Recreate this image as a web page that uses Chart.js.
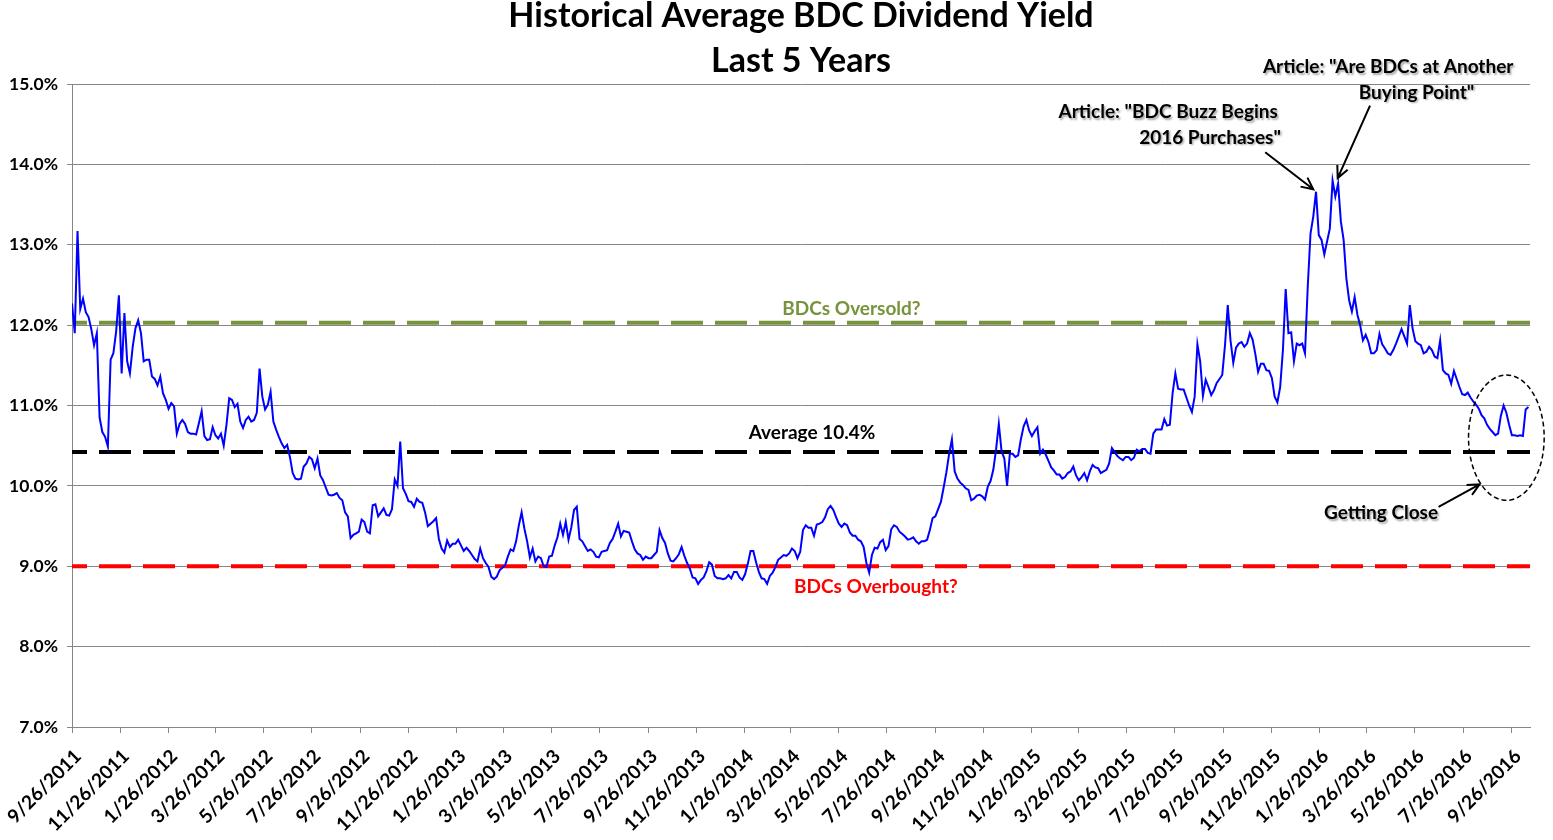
<!DOCTYPE html>
<html>
<head>
<meta charset="utf-8">
<title>Historical Average BDC Dividend Yield</title>
<script src="https://cdn.jsdelivr.net/npm/chart.js@4.4.1/dist/chart.umd.min.js"></script>
<style>
    html, body { margin: 0; padding: 0; background: #fff; }
</style>
</head>
<body>
<canvas id="yieldChart" width="1553" height="840"></canvas>
<script>
// average BDC dividend yield (%), sampled twice a week from 9/26/2011
const startDate = '9/26/2011';
const stepDays = 3.5;
const yields = [
    12.27, 11.90, 13.17, 12.20, 12.33, 12.16, 12.10, 11.95, 11.75, 11.90,
    10.85, 10.67, 10.61, 10.49, 11.57, 11.65, 11.92, 12.37, 11.40, 12.15,
    11.55, 11.40, 11.73, 11.96, 12.06, 11.90, 11.55, 11.57, 11.57, 11.36,
    11.33, 11.25, 11.36, 11.15, 11.07, 10.96, 11.03, 10.99, 10.65, 10.77,
    10.82, 10.77, 10.67, 10.65, 10.65, 10.64, 10.78, 10.93, 10.62, 10.57,
    10.58, 10.73, 10.63, 10.59, 10.65, 10.50, 10.76, 11.09, 11.07, 10.98,
    11.02, 10.80, 10.72, 10.82, 10.86, 10.80, 10.82, 10.91, 11.46, 11.11,
    10.95, 11.01, 11.17, 10.80, 10.70, 10.61, 10.53, 10.47, 10.51, 10.36,
    10.16, 10.09, 10.08, 10.09, 10.24, 10.28, 10.36, 10.33, 10.22, 10.34,
    10.13, 10.07, 9.98, 9.89, 9.88, 9.89, 9.91, 9.85, 9.82, 9.67,
    9.62, 9.35, 9.39, 9.41, 9.43, 9.58, 9.55, 9.43, 9.41, 9.76,
    9.77, 9.62, 9.67, 9.72, 9.64, 9.63, 9.71, 10.08, 10.00, 10.55,
    9.97, 9.90, 9.81, 9.80, 9.74, 9.84, 9.80, 9.79, 9.67, 9.50,
    9.53, 9.56, 9.60, 9.34, 9.22, 9.17, 9.32, 9.24, 9.28, 9.28,
    9.33, 9.26, 9.19, 9.23, 9.19, 9.14, 9.09, 9.06, 9.22, 9.10,
    9.04, 8.99, 8.87, 8.84, 8.87, 8.95, 8.98, 9.01, 9.12, 9.21,
    9.19, 9.31, 9.51, 9.67, 9.47, 9.31, 9.11, 9.22, 9.06, 9.12,
    9.10, 9.00, 8.99, 9.12, 9.13, 9.26, 9.36, 9.53, 9.39, 9.55,
    9.33, 9.48, 9.70, 9.74, 9.34, 9.31, 9.25, 9.19, 9.21, 9.18,
    9.12, 9.11, 9.18, 9.19, 9.20, 9.29, 9.34, 9.43, 9.53, 9.37,
    9.44, 9.43, 9.42, 9.31, 9.21, 9.16, 9.14, 9.08, 9.12, 9.10,
    9.10, 9.14, 9.18, 9.45, 9.35, 9.29, 9.16, 9.07, 9.06, 9.10,
    9.15, 9.24, 9.13, 9.04, 8.97, 8.86, 8.85, 8.78, 8.83, 8.86,
    8.94, 9.05, 9.02, 8.88, 8.85, 8.85, 8.84, 8.85, 8.89, 8.85,
    8.93, 8.93, 8.86, 8.83, 8.90, 9.03, 9.19, 9.19, 9.05, 8.93,
    8.85, 8.84, 8.78, 8.88, 8.92, 8.99, 9.08, 9.11, 9.14, 9.13,
    9.16, 9.22, 9.19, 9.10, 9.18, 9.45, 9.51, 9.48, 9.48, 9.38,
    9.52, 9.53, 9.55, 9.61, 9.71, 9.75, 9.70, 9.61, 9.53, 9.49,
    9.53, 9.51, 9.42, 9.38, 9.38, 9.33, 9.31, 9.24, 9.04, 8.92,
    9.14, 9.23, 9.22, 9.30, 9.33, 9.20, 9.25, 9.46, 9.51, 9.49,
    9.43, 9.40, 9.37, 9.33, 9.34, 9.36, 9.31, 9.28, 9.31, 9.31,
    9.33, 9.45, 9.60, 9.62, 9.71, 9.80, 9.98, 10.17, 10.40, 10.58,
    10.18, 10.09, 10.04, 10.01, 9.97, 9.95, 9.82, 9.84, 9.88, 9.89,
    9.87, 9.83, 9.99, 10.06, 10.20, 10.45, 10.77, 10.43, 10.34, 10.00,
    10.40, 10.40, 10.36, 10.38, 10.58, 10.74, 10.82, 10.69, 10.62, 10.68,
    10.73, 10.40, 10.45, 10.39, 10.31, 10.23, 10.19, 10.14, 10.14, 10.09,
    10.11, 10.16, 10.18, 10.24, 10.13, 10.07, 10.11, 10.16, 10.07, 10.18,
    10.26, 10.23, 10.22, 10.16, 10.18, 10.20, 10.28, 10.47, 10.42, 10.37,
    10.34, 10.32, 10.36, 10.36, 10.32, 10.35, 10.45, 10.43, 10.46, 10.46,
    10.41, 10.40, 10.65, 10.70, 10.70, 10.70, 10.83, 10.75, 10.76, 11.15,
    11.40, 11.21, 11.20, 11.20, 11.10, 11.00, 10.92, 11.11, 11.76, 11.55,
    11.12, 11.32, 11.23, 11.13, 11.19, 11.28, 11.33, 11.38, 11.75, 12.25,
    11.81, 11.53, 11.72, 11.77, 11.79, 11.73, 11.77, 11.90, 11.82, 11.64,
    11.42, 11.52, 11.52, 11.44, 11.43, 11.34, 11.11, 11.04, 11.23, 11.69,
    12.45, 11.90, 11.91, 11.55, 11.77, 11.75, 11.77, 11.65, 12.48, 13.14,
    13.35, 13.66, 13.12, 13.06, 12.88, 13.04, 13.20, 13.80, 13.60, 13.76,
    13.29, 13.06, 12.58, 12.31, 12.17, 12.35, 12.13, 12.00, 11.81, 11.88,
    11.79, 11.65, 11.65, 11.69, 11.89, 11.76, 11.71, 11.65, 11.63, 11.69,
    11.77, 11.86, 11.95, 11.86, 11.77, 12.25, 11.96, 11.80, 11.77, 11.75,
    11.65, 11.67, 11.73, 11.69, 11.61, 11.59, 11.81, 11.44, 11.40, 11.38,
    11.27, 11.43, 11.33, 11.23, 11.14, 11.13, 11.16, 11.10, 11.05, 11.01,
    10.96, 10.88, 10.84, 10.76, 10.71, 10.67, 10.63, 10.65, 10.87, 11.00,
    10.91, 10.76, 10.63, 10.63, 10.62, 10.63, 10.62, 10.95, 10.98
];

const tickLabels = [
    '9/26/2011', '11/26/2011', '1/26/2012', '3/26/2012', '5/26/2012', '7/26/2012',
    '9/26/2012', '11/26/2012', '1/26/2013', '3/26/2013', '5/26/2013', '7/26/2013',
    '9/26/2013', '11/26/2013', '1/26/2014', '3/26/2014', '5/26/2014', '7/26/2014',
    '9/26/2014', '11/26/2014', '1/26/2015', '3/26/2015', '5/26/2015', '7/26/2015',
    '9/26/2015', '11/26/2015', '1/26/2016', '3/26/2016', '5/26/2016', '7/26/2016',
    '9/26/2016'
];

const titleLines = ['Historical Average BDC Dividend Yield', 'Last 5 Years'];

const oversoldLevel = 12.03;
const averageLevel = 10.42;
const overboughtLevel = 9.0;

const lastDay = 1850;   // right edge of the date axis, in days after startDate

// days between startDate and an m/d/yyyy label
function dayOffset(label) {
    const [m, d, y] = label.split('/').map(Number);
    const [m0, d0, y0] = startDate.split('/').map(Number);
    return Math.round((Date.UTC(y, m - 1, d) - Date.UTC(y0, m0 - 1, d0)) / 86400000);
}

const yieldPoints = yields.map((v, i) => ({ x: i * stepDays, y: v }));
const levelLine = (lvl) => [{ x: 0, y: lvl }, { x: lastDay, y: lvl }];

const FONT = 'Lato, "Open Sans", sans-serif';

// text notes, arrows and the circle, placed in axis units (days, %)
const notes = [
    { text: 'BDCs Oversold?', day: 989, value: 12.2, color: '#77933C', align: 'center' },
    { text: 'Average 10.4%', day: 939, value: 10.66, color: '#000', align: 'center' },
    { text: 'BDCs Overbought?', day: 1020, value: 8.74, color: '#FF0000', align: 'center' },
    { text: 'Article: "BDC Buzz Begins', day: 1530, value: 14.65, color: '#000', align: 'right', shadow: true },
    { text: '2016 Purchases"', day: 1534, value: 14.33, color: '#000', align: 'right', shadow: true },
    { text: 'Article: "Are BDCs at Another', day: 1670, value: 15.21, color: '#000', align: 'center', shadow: true },
    { text: 'Buying Point"', day: 1706, value: 14.89, color: '#000', align: 'center', shadow: true },
    { text: 'Getting Close', day: 1661, value: 9.66, color: '#000', align: 'center', shadow: true }
];
const arrows = [
    { fromDay: 1514, fromValue: 14.15, toDay: 1575, toValue: 13.69 },
    { fromDay: 1647, fromValue: 14.73, toDay: 1606, toValue: 13.83 },
    { fromDay: 1734, fromValue: 9.74, toDay: 1786, toValue: 10.02 }
];
const circle = { day: 1820, value: 10.6, radiusDays: 48, radiusValue: 0.78 };

// two-line title, centred over the plot area
const titlePlugin = {
    id: 'plotTitle',
    afterDraw(chart) {
        const { ctx, chartArea } = chart;
        const cx = (chartArea.left + chartArea.right) / 2;
        ctx.save();
        ctx.font = 'bold 34px ' + FONT;
        ctx.fillStyle = '#000';
        ctx.textAlign = 'center';
        ctx.textBaseline = 'middle';
        titleLines.forEach((line, i) => ctx.fillText(line, cx, 16 + i * 45));
        ctx.restore();
    }
};

const notesPlugin = {
    id: 'notes',
    afterDraw(chart) {
        const { ctx, scales: { x, y } } = chart;
        ctx.save();

        // dashed circle around the latest readings
        const cx = x.getPixelForValue(circle.day);
        const cy = y.getPixelForValue(circle.value);
        const rx = x.getPixelForValue(circle.day + circle.radiusDays) - cx;
        const ry = cy - y.getPixelForValue(circle.value + circle.radiusValue);
        ctx.beginPath();
        ctx.setLineDash([5, 3]);
        ctx.lineWidth = 1.5;
        ctx.strokeStyle = '#000';
        ctx.ellipse(cx, cy, rx, ry, 0, 0, Math.PI * 2);
        ctx.stroke();
        ctx.setLineDash([]);

        // arrows
        ctx.lineWidth = 2;
        arrows.forEach(a => {
            const x1 = x.getPixelForValue(a.fromDay), y1 = y.getPixelForValue(a.fromValue);
            const x2 = x.getPixelForValue(a.toDay), y2 = y.getPixelForValue(a.toValue);
            const ang = Math.atan2(y2 - y1, x2 - x1);
            ctx.beginPath();
            ctx.moveTo(x1, y1);
            ctx.lineTo(x2, y2);
            ctx.moveTo(x2 - 13 * Math.cos(ang - 0.45), y2 - 13 * Math.sin(ang - 0.45));
            ctx.lineTo(x2, y2);
            ctx.lineTo(x2 - 13 * Math.cos(ang + 0.45), y2 - 13 * Math.sin(ang + 0.45));
            ctx.stroke();
        });

        // labels
        ctx.font = 'bold 19px ' + FONT;
        ctx.textBaseline = 'middle';
        notes.forEach(n => {
            ctx.save();
            if (n.shadow) {
                ctx.shadowColor = 'rgba(0,0,0,0.35)';
                ctx.shadowOffsetX = 1.5;
                ctx.shadowOffsetY = 1.5;
                ctx.shadowBlur = 2;
            }
            ctx.fillStyle = n.color;
            ctx.textAlign = n.align;
            ctx.fillText(n.text, x.getPixelForValue(n.day), y.getPixelForValue(n.value));
            ctx.restore();
        });
        ctx.restore();
    }
};

new Chart(document.getElementById('yieldChart'), {
    type: 'line',
    data: {
        datasets: [
            {
                label: 'Average BDC Dividend Yield',
                data: yieldPoints,
                borderColor: '#0000FF',
                borderWidth: 2,
                pointRadius: 0,
                tension: 0
            },
            {
                label: 'BDCs Oversold',
                data: levelLine(oversoldLevel),
                borderColor: '#77933C',
                borderWidth: 4,
                borderDash: [32, 12],
                borderDashOffset: 17,
                pointRadius: 0
            },
            {
                label: 'Average',
                data: levelLine(averageLevel),
                borderColor: '#000000',
                borderWidth: 4,
                borderDash: [32, 12],
                borderDashOffset: 17,
                pointRadius: 0
            },
            {
                label: 'BDCs Overbought',
                data: levelLine(overboughtLevel),
                borderColor: '#FF0000',
                borderWidth: 4,
                borderDash: [32, 12],
                borderDashOffset: 17,
                pointRadius: 0
            }
        ]
    },
    options: {
        responsive: false,
        animation: false,
        devicePixelRatio: 1,
        layout: { padding: { left: 0, right: 23, top: 84, bottom: 0 } },
        plugins: {
            legend: { display: false },
            tooltip: { enabled: false },
            title: { display: false }
        },
        scales: {
            x: {
                type: 'linear',
                min: 0,
                max: lastDay,
                afterBuildTicks: (scale) => {
                    scale.ticks = tickLabels.map(l => ({ value: dayOffset(l) }));
                },
                afterFit: (scale) => {
                    scale.height = 113;
                    // rotated labels may hang past the y axis; don't let them shrink the plot
                    scale.paddingLeft = 0;
                    scale.paddingRight = 0;
                },
                ticks: {
                    autoSkip: false,
                    minRotation: 45,
                    maxRotation: 45,
                    padding: 12,
                    labelOffset: 6,
                    color: '#000',
                    font: { family: FONT, size: 19, weight: 'bold' },
                    callback: (value, index) => tickLabels[index]
                },
                grid: { drawOnChartArea: false, drawTicks: true, tickLength: 6, color: '#868686' },
                border: { color: '#868686' }
            },
            y: {
                min: 7,
                max: 15,
                afterFit: (scale) => { scale.width = 72; },
                ticks: {
                    stepSize: 1,
                    padding: 9,
                    color: '#000',
                    font: { family: FONT, size: 17.5, weight: 'bold' },
                    callback: (value) => value.toFixed(1) + '%'
                },
                grid: { color: '#868686', tickLength: 5 },
                border: { color: '#868686' }
            }
        }
    },
    plugins: [titlePlugin, notesPlugin]
});
</script>
</body>
</html>
